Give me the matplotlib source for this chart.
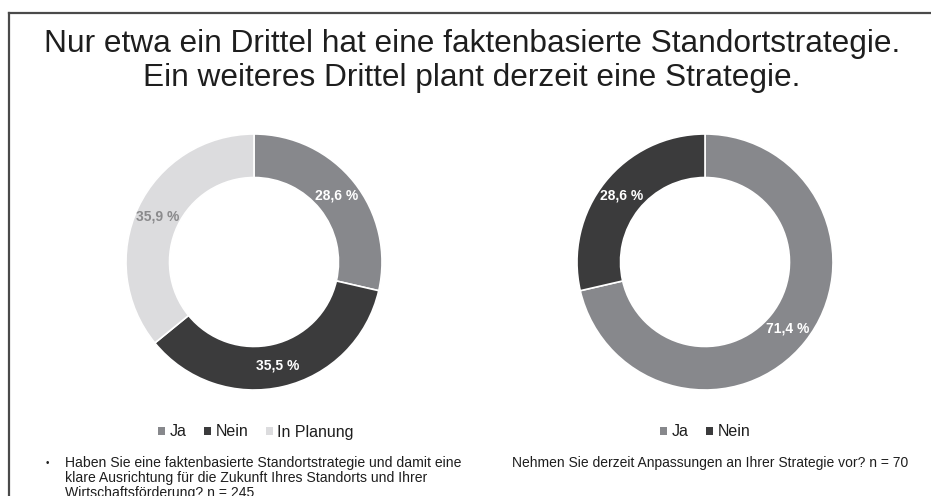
import matplotlib.pyplot as plt
from matplotlib.patches import Patch
from matplotlib.lines import Line2D

plt.rcParams['font.family'] = ['Liberation Sans', 'DejaVu Sans']

# data
left_labels = ["Ja", "Nein", "In Planung"]
left_values = [28.6, 35.5, 35.9]
left_colors = ["#87888c", "#3b3b3c", "#dcdcde"]
left_text_colors = ["white", "white", "#8a8a8c"]

right_labels = ["Ja", "Nein"]
right_values = [71.4, 28.6]
right_colors = ["#87888c", "#3b3b3c"]
right_text_colors = ["white", "white"]

title = ("Nur etwa ein Drittel hat eine faktenbasierte Standortstrategie.\n"
         "Ein weiteres Drittel plant derzeit eine Strategie.")
left_question = ("Haben Sie eine faktenbasierte Standortstrategie und damit eine\n"
                 "klare Ausrichtung für die Zukunft Ihres Standorts und Ihrer\n"
                 "Wirtschaftsförderung? n = 245")
right_question = "Nehmen Sie derzeit Anpassungen an Ihrer Strategie vor? n = 70"

W, H = 931, 496
fig = plt.figure(figsize=(W / 100, H / 100), dpi=100)
fig.patch.set_facecolor("white")


def fx(px):
    return px / W


def fy(py):
    return 1 - py / H


# frame (left and top edges only are visible)
fig.add_artist(Line2D([fx(9), fx(9)], [0, fy(13)], color="#4a4a4a", lw=1.6,
                      transform=fig.transFigure))
fig.add_artist(Line2D([fx(9), 1], [fy(13), fy(13)], color="#4a4a4a", lw=1.6,
                      transform=fig.transFigure))

fig.text(fx(472), fy(61), title, ha="center", va="center", fontsize=22.8,
         color="#1e1e1e", linespacing=1.16)


def donut(cx, cy, r, values, colors, text_colors):
    ax = fig.add_axes([fx(cx - r), fy(cy + r), 2 * r / W, 2 * r / H])
    width = 0.34
    wedges, texts = ax.pie(values, colors=colors, startangle=90, counterclock=False,
                           radius=1, wedgeprops=dict(width=width, edgecolor="white", linewidth=1.2),
                           labels=[f"{v:.1f} %".replace(".", ",") for v in values],
                           labeldistance=1 - width / 2)
    for t, c in zip(texts, text_colors):
        t.set_color(c)
        t.set_fontsize(10)
        t.set_fontweight("bold")
        t.set_ha("center")
        t.set_va("center")
    ax.set_xlim(-1, 1)
    ax.set_ylim(-1, 1)
    ax.set_aspect("equal")
    ax.axis("off")
    return ax


donut(254, 262, 128, left_values, left_colors, left_text_colors)
donut(705, 262, 128, right_values, right_colors, right_text_colors)

left_handles = [Patch(facecolor=c, edgecolor="none", label=l) for l, c in zip(left_labels, left_colors)]
right_handles = [Patch(facecolor=c, edgecolor="none", label=l) for l, c in zip(right_labels, right_colors)]

legend_kw = dict(loc="center", frameon=False, fontsize=11.5, handlelength=0.42,
                 handleheight=0.42, handletextpad=0.3, columnspacing=1.1,
                 labelcolor="#1e1e1e")
fig.legend(handles=left_handles, bbox_to_anchor=(fx(256), fy(432)), ncol=3, **legend_kw)
fig.legend(handles=right_handles, bbox_to_anchor=(fx(705), fy(432)), ncol=2, **legend_kw)

fig.text(fx(46), fy(463), "•", ha="left", va="center", fontsize=7, color="#1e1e1e")
fig.text(fx(65), fy(456), left_question, ha="left", va="top", fontsize=10.1,
         color="#1e1e1e", linespacing=1.08)
fig.text(fx(512), fy(463), right_question, ha="left", va="center", fontsize=10,
         color="#1e1e1e")

fig.savefig("out.png", dpi=100)
